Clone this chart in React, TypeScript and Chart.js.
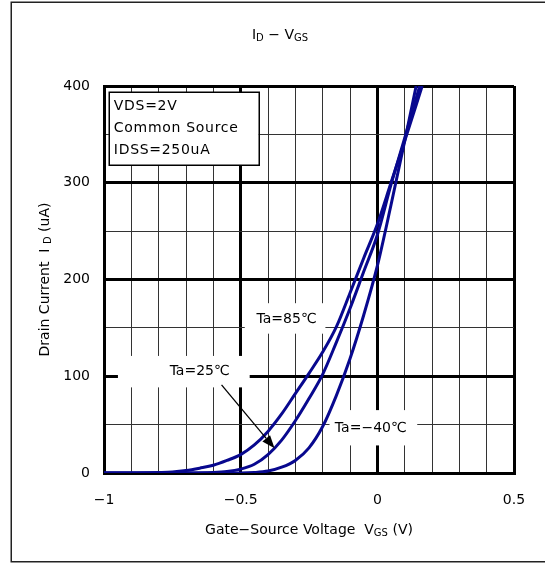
import React, { useEffect, useRef } from "react";
import { Chart, registerables } from "chart.js";

Chart.register(...registerables);

// ---- data ----
const vgs85 = [-1, -0.9, -0.8, -0.75, -0.7, -0.65, -0.6, -0.55, -0.5, -0.45, -0.4, -0.35, -0.3, -0.25, -0.2, -0.15, -0.1, -0.05, 0, 0.05, 0.1, 0.164];
const id85 = [0, 0, 0.5, 1, 2.5, 5, 8, 13, 19, 29, 43, 61, 82, 103, 125, 151, 186, 222, 257, 300, 343, 400];

const vgs25 = [-1, -0.7, -0.6, -0.55, -0.5, -0.45, -0.4, -0.35, -0.3, -0.25, -0.2, -0.15, -0.1, -0.05, 0, 0.05, 0.1, 0.155];
const id25 = [0, 0, 0.5, 1.5, 4, 9, 19, 34, 54, 77, 102, 135, 170, 208, 246, 298, 346, 400];

const vgsM40 = [-1, -0.5, -0.45, -0.4, -0.35, -0.3, -0.25, -0.2, -0.15, -0.1, -0.05, 0, 0.05, 0.1, 0.142];
const idM40 = [0, 0, 0.5, 2, 6, 13, 26, 48, 80, 118, 163, 214, 277, 343, 400];

const seriesNames = ["Ta=85℃", "Ta=25℃", "Ta=−40℃"];
const xTickValues = [-1, -0.5, 0, 0.5];
const xTickLabels = ["−1", "−0.5", "0", "0.5"];
const yTickValues = [0, 100, 200, 300, 400];
const yTickLabels = ["0", "100", "200", "300", "400"];
const noteLines = ["VDS=2V", "Common Source", "IDSS=250uA"];

const FONT = '"DejaVu Sans", sans-serif';
const LINE = "#08088e";

type Run = [string, boolean];

function drawRuns(ctx: CanvasRenderingContext2D, runs: Run[], cx: number, cy: number, size: number) {
  const subSize = Math.round(size * 0.72);
  const widths = runs.map(([t, sub]) => {
    ctx.font = `${sub ? subSize : size}px ${FONT}`;
    return ctx.measureText(t).width;
  });
  const total = widths.reduce((a, b) => a + b, 0);
  let x = cx - total / 2;
  ctx.textAlign = "left";
  ctx.textBaseline = "middle";
  runs.forEach(([t, sub], i) => {
    ctx.font = `${sub ? subSize : size}px ${FONT}`;
    ctx.fillText(t, x, cy + (sub ? size * 0.22 : 0));
    x += widths[i];
  });
}

function isMultiple(v: number, step: number) {
  const r = v / step;
  return Math.abs(r - Math.round(r)) < 1e-6;
}

const overlayPlugin = {
  id: "overlay",
  beforeDraw(chart: any) {
    const ctx = chart.ctx as CanvasRenderingContext2D;
    ctx.save();
    ctx.fillStyle = "#fff";
    ctx.fillRect(0, 0, chart.width, chart.height);
    ctx.strokeStyle = "#222";
    ctx.lineWidth = 1.5;
    ctx.strokeRect(11.25, 2.25, chart.width + 20, 559.5);
    ctx.restore();
  },
  beforeDatasetsDraw(chart: any) {
    const ctx = chart.ctx as CanvasRenderingContext2D;
    const xs = chart.scales.x;
    const ys = chart.scales.y;
    const px = (v: number) => xs.getPixelForValue(v);
    const py = (v: number) => ys.getPixelForValue(v);
    ctx.save();
    // white label backgrounds: [x1, x2, yTop, yBottom] in data units
    const boxes: number[][] = [
      [-0.485, -0.19, 175.5, 144],
      [-0.949, -0.467, 121, 88.5],
      [-0.175, 0.146, 65, 28.5],
    ];
    ctx.fillStyle = "#fff";
    boxes.forEach(([x1, x2, y1, y2]) => {
      ctx.fillRect(px(x1), py(y1), px(x2) - px(x1), py(y2) - py(y1));
    });
    // condition note box
    const nx1 = px(-0.982), nx2 = px(-0.434), ny1 = py(393.8), ny2 = py(318.3);
    ctx.fillRect(nx1, ny1, nx2 - nx1, ny2 - ny1);
    ctx.strokeStyle = "#000";
    ctx.lineWidth = 1.5;
    ctx.strokeRect(Math.round(nx1) + 0.25, Math.round(ny1) + 0.25, Math.round(nx2 - nx1), Math.round(ny2 - ny1));
    ctx.fillStyle = "#000";
    ctx.font = `14px ${FONT}`;
    ctx.textAlign = "left";
    ctx.textBaseline = "middle";
    (ctx as any).letterSpacing = "0.7px";
    const noteY = [379.3, 356.6, 333.9];
    noteLines.forEach((t, i) => ctx.fillText(t, px(-0.964), py(noteY[i])));
    (ctx as any).letterSpacing = "0px";
    // series labels
    ctx.textAlign = "center";
    const labelPos = [
      [-0.332, 159],
      [-0.65, 105.4],
      [-0.024, 46.5],
    ];
    seriesNames.forEach((t, i) => ctx.fillText(t, px(labelPos[i][0]), py(labelPos[i][1])));
    ctx.restore();
  },
  afterDatasetsDraw(chart: any) {
    const ctx = chart.ctx as CanvasRenderingContext2D;
    const xs = chart.scales.x;
    const ys = chart.scales.y;
    const x0 = xs.getPixelForValue(-0.57), y0 = ys.getPixelForValue(91);
    const x1 = xs.getPixelForValue(-0.376), y1 = ys.getPixelForValue(25.5);
    const ang = Math.atan2(y1 - y0, x1 - x0);
    const head = 13, hw = 5;
    ctx.save();
    ctx.strokeStyle = "#000";
    ctx.fillStyle = "#000";
    ctx.lineWidth = 1.3;
    ctx.beginPath();
    ctx.moveTo(x0, y0);
    ctx.lineTo(x1 - head * Math.cos(ang), y1 - head * Math.sin(ang));
    ctx.stroke();
    ctx.beginPath();
    ctx.moveTo(x1, y1);
    ctx.lineTo(x1 - head * Math.cos(ang) + hw * Math.sin(ang), y1 - head * Math.sin(ang) - hw * Math.cos(ang));
    ctx.lineTo(x1 - head * Math.cos(ang) - hw * Math.sin(ang), y1 - head * Math.sin(ang) + hw * Math.cos(ang));
    ctx.closePath();
    ctx.fill();
    ctx.restore();
  },
  afterDraw(chart: any) {
    const ctx = chart.ctx as CanvasRenderingContext2D;
    const area = chart.chartArea;
    ctx.save();
    ctx.fillStyle = "#000";
    // title
    drawRuns(ctx, [["I", false], ["D", true], [" − V", false], ["GS", true]], 280, 35, 14);
    // x axis title
    drawRuns(
      ctx,
      [["Gate−Source Voltage  V", false], ["GS", true], [" (V)", false]],
      (area.left + area.right) / 2,
      530,
      14
    );
    // y axis title
    ctx.translate(45, (area.top + area.bottom) / 2);
    ctx.rotate(-Math.PI / 2);
    drawRuns(ctx, [["Drain Current  I ", false], ["D", true], [" (uA)", false]], 0, 0, 14);
    ctx.restore();
  },
};

export default function App() {
  const canvasRef = useRef<HTMLCanvasElement | null>(null);

  useEffect(() => {
    if (!canvasRef.current) return;
    const mk = (xv: number[], yv: number[], label: string) => ({
      label,
      data: xv.map((x, i) => ({ x, y: yv[i] })),
      borderColor: LINE,
      backgroundColor: LINE,
      borderWidth: 3,
      pointRadius: 0,
      cubicInterpolationMode: "monotone" as const,
      fill: false,
    });
    const chart = new Chart(canvasRef.current, {
      type: "line",
      data: {
        datasets: [
          mk(vgs85, id85, seriesNames[0]),
          mk(vgs25, id25, seriesNames[1]),
          mk(vgsM40, idM40, seriesNames[2]),
        ],
      },
      options: {
        animation: false,
        responsive: false,
        devicePixelRatio: 1,
        layout: { padding: { left: 0, top: 86, right: 31, bottom: 0 } },
        plugins: {
          legend: { display: false },
          title: { display: false },
          tooltip: { enabled: false },
        },
        scales: {
          x: {
            type: "linear",
            min: -1,
            max: 0.5,
            afterFit: (s: any) => {
              s.height = 90;
            },
            ticks: {
              stepSize: 0.1,
              autoSkip: false,
              maxRotation: 0,
              padding: 19,
              color: "#000",
              font: { family: FONT, size: 14 },
              callback: (v: any) => {
                const i = xTickValues.findIndex((t) => Math.abs(t - Number(v)) < 1e-6);
                return i >= 0 ? xTickLabels[i] : "";
              },
            },
            grid: {
              drawTicks: false,
              color: (c: any) => (isMultiple(c.tick.value, 0.5) ? "#000" : "#333"),
              lineWidth: (c: any) => (isMultiple(c.tick.value, 0.5) ? 3 : 1),
            },
            border: { display: true, color: "#000", width: 3 },
          },
          y: {
            type: "linear",
            min: 0,
            max: 400,
            afterFit: (s: any) => {
              s.width = 104;
            },
            ticks: {
              stepSize: 50,
              autoSkip: false,
              padding: 14,
              color: "#000",
              font: { family: FONT, size: 14 },
              callback: (v: any) => {
                const i = yTickValues.findIndex((t) => Math.abs(t - Number(v)) < 1e-6);
                return i >= 0 ? yTickLabels[i] : "";
              },
            },
            grid: {
              drawTicks: false,
              color: (c: any) => (isMultiple(c.tick.value, 100) ? "#000" : "#333"),
              lineWidth: (c: any) => (isMultiple(c.tick.value, 100) ? 3 : 1),
            },
            border: { display: true, color: "#000", width: 3 },
          },
        },
      },
      plugins: [overlayPlugin],
    });
    return () => chart.destroy();
  }, []);

  return (
    <div style={{ position: "fixed", left: 0, top: 0, width: 545, height: 563, background: "#fff" }}>
      <canvas ref={canvasRef} width={545} height={563} style={{ display: "block", width: 545, height: 563 }} />
    </div>
  );
}
